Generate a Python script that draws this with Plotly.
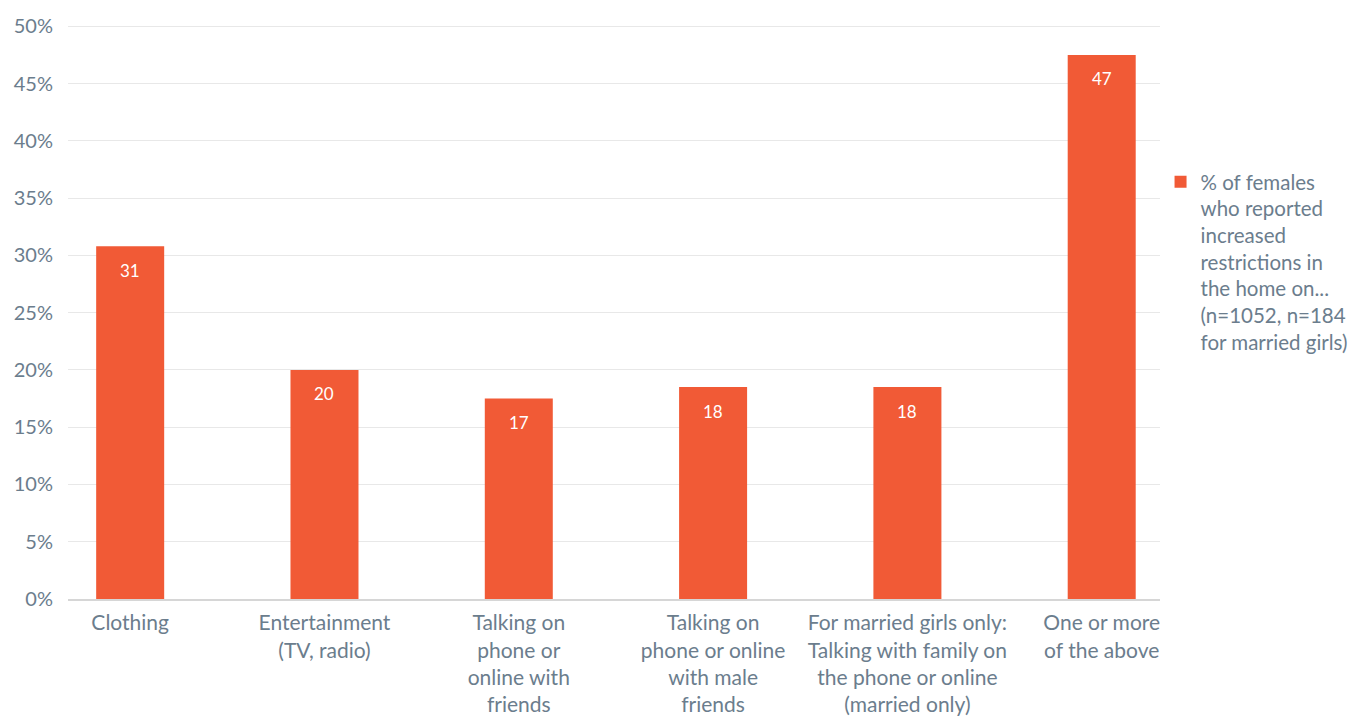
import plotly.graph_objects as go

categories = [
    "Clothing",
    "Entertainment<br>(TV, radio)",
    "Talking on<br>phone or<br>online with<br>friends",
    "Talking on<br>phone or online<br>with male<br>friends",
    "For married girls only:<br>Talking with family on<br>the phone or online<br>(married only)",
    "One or more<br>of the above",
]
values = [30.8, 20.0, 17.5, 18.5, 18.5, 47.5]
value_labels = ["31", "20", "17", "18", "18", "47"]
y_ticks = [0, 5, 10, 15, 20, 25, 30, 35, 40, 45, 50]
series_name = ("% of females<br>who reported<br>increased<br>restrictions in<br>"
               "the home on...<br>(n=1052, n=184<br>for married girls)")

BAR = "#F15A36"
TXT = "#6B7D8D"
FONT = "Lato"

xs = list(range(len(categories)))

fig = go.Figure()
fig.add_trace(go.Bar(
    x=xs,
    y=values,
    name=series_name,
    marker=dict(color=BAR, line=dict(width=0)),
    width=0.35,
    showlegend=True,
))

for xi, v, lab in zip(xs, values, value_labels):
    fig.add_annotation(
        x=xi, y=v, text=lab, showarrow=False,
        yanchor="middle", yshift=-24,
        font=dict(color="white", size=17, family=FONT),
    )

fig.update_layout(
    width=1359, height=718,
    margin=dict(l=60, r=207, t=16, b=127, autoexpand=False),
    paper_bgcolor="white", plot_bgcolor="white",
    font=dict(family=FONT, color=TXT),
    legend=dict(
        x=1.0005, y=0.76, xanchor="left", yanchor="top",
        font=dict(size=20.5, color=TXT, family=FONT),
        valign="top",
        bgcolor="rgba(0,0,0,0)",
    ),
    xaxis=dict(
        tickmode="array",
        tickvals=xs,
        ticktext=categories,
        range=[-0.32, 5.3],
        showgrid=False,
        zeroline=False,
        showline=True, linecolor="#D6D6D6", linewidth=2,
        ticks="",
        automargin=False,
        ticklabelstandoff=4,
        tickfont=dict(size=21, color=TXT, family=FONT),
        tickangle=0,
    ),
    yaxis=dict(
        range=[0, 50.2],
        tickvals=y_ticks,
        ticktext=[f"{v}%" for v in y_ticks],
        showgrid=True, gridcolor="#E8E8E8", gridwidth=1,
        zeroline=False,
        showline=False,
        ticks="",
        automargin=False,
        ticklabelstandoff=14,
        tickfont=dict(size=20, color=TXT, family=FONT),
    ),
)

fig.write_html("out.html")
